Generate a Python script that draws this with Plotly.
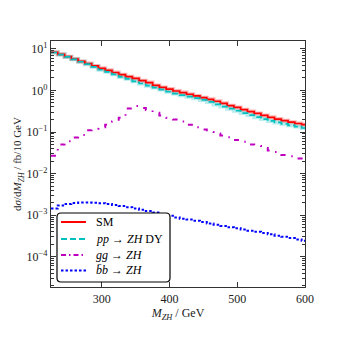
import plotly.graph_objects as go

# 10 GeV bins from 225 GeV, the last one is cut at 600 GeV by the axis
bin_lo = [225, 235, 245, 255, 265, 275, 285, 295, 305, 315,
          325, 335, 345, 355, 365, 375, 385, 395, 405, 415,
          425, 435, 445, 455, 465, 475, 485, 495, 505, 515,
          525, 535, 545, 555, 565, 575, 585, 595]
bin_end = 605

sm = [8.3, 7.4, 6.5, 5.7, 5.0, 4.45, 3.9, 3.4, 3.05, 2.7,
      2.4, 2.15, 1.95, 1.72, 1.55, 1.32, 1.18, 1.08, 0.97, 0.89,
      0.81, 0.74, 0.67, 0.61, 0.55, 0.49, 0.43, 0.39, 0.345, 0.31,
      0.28, 0.25, 0.225, 0.205, 0.187, 0.172, 0.16, 0.15]

dy = [8.2, 7.3, 6.4, 5.6, 4.9, 4.3, 3.7, 3.15, 2.8, 2.45,
      2.12, 1.9, 1.66, 1.47, 1.3, 1.17, 1.05, 0.93, 0.84, 0.77,
      0.71, 0.65, 0.59, 0.53, 0.46, 0.41, 0.365, 0.325, 0.285, 0.255,
      0.228, 0.205, 0.185, 0.17, 0.157, 0.145, 0.135, 0.125]

gg = [0.027, 0.05, 0.06, 0.074, 0.085, 0.11, 0.12, 0.13, 0.15, 0.18,
      0.22, 0.37, 0.42, 0.38, 0.34, 0.29, 0.25, 0.22, 0.20, 0.18,
      0.15, 0.13, 0.115, 0.10, 0.092, 0.082, 0.075, 0.064, 0.058, 0.050,
      0.046, 0.041, 0.036, 0.033, 0.028, 0.026, 0.023, 0.021]

bb = [1.45e-3, 1.7e-3, 1.85e-3, 1.95e-3, 2.0e-3, 2.0e-3, 1.98e-3, 1.93e-3, 1.85e-3, 1.75e-3,
      1.65e-3, 1.55e-3, 1.45e-3, 1.35e-3, 1.25e-3, 1.16e-3, 1.05e-3, 9.6e-4, 8.8e-4, 8.2e-4,
      7.8e-4, 7.3e-4, 6.8e-4, 6.3e-4, 5.9e-4, 5.5e-4, 5.1e-4, 4.8e-4, 4.5e-4, 4.2e-4,
      3.95e-4, 3.7e-4, 3.45e-4, 3.2e-4, 3.0e-4, 2.8e-4, 2.6e-4, 2.4e-4]

# y tick labels
y_exp = [-4, -3, -2, -1, 0, 1]
y_ticktext = ["10<sup>−4</sup>", "10<sup>−3</sup>", "10<sup>−2</sup>",
              "10<sup>−1</sup>", "10<sup>0</sup>", "10<sup>1</sup>"]

# legend entries: label, colour, dash
leg_labels = ["SM", "<i>pp</i> → <i>ZH</i> DY", "<i>gg</i> → <i>ZH</i>", "<i>b̄b</i> → <i>ZH</i>"]
leg_colors = ["#ff0000", "#00bfbf", "#bf00bf", "#0000ff"]
leg_dash = ["solid", "6px,3px", "5px,3px,1.5px,3px", "2.5px,2px"]

FONT = "Liberation Serif"

x_step = bin_lo + [bin_end]


def step(vals):
    # repeat last value so the final bin gets drawn with shape 'hv'
    return vals + [vals[-1]]


fig = go.Figure()

# pale halos under SM and DY
fig.add_trace(go.Scatter(x=x_step, y=step(sm), mode="lines", line_shape="hv",
                         line=dict(color="rgba(255,0,0,0.28)", width=4),
                         hoverinfo="skip"))
fig.add_trace(go.Scatter(x=x_step, y=step(dy), mode="lines", line_shape="hv",
                         line=dict(color="rgba(0,191,191,0.28)", width=4),
                         hoverinfo="skip"))

fig.add_trace(go.Scatter(x=x_step, y=step(sm), mode="lines", line_shape="hv",
                         line=dict(color="#ff0000", width=1.7), name="SM"))
fig.add_trace(go.Scatter(x=x_step, y=step(dy), mode="lines", line_shape="hv",
                         line=dict(color="#00bfbf", width=1.7, dash="6px,3px"),
                         name="pp → ZH DY"))
fig.add_trace(go.Scatter(x=x_step, y=step(gg), mode="lines", line_shape="hv",
                         line=dict(color="#bf00bf", width=2, dash="5px,7px,1.5px,7px"),
                         name="gg → ZH"))
fig.add_trace(go.Scatter(x=x_step, y=step(bb), mode="lines", line_shape="hv",
                         line=dict(color="#0000ff", width=2, dash="2.5px,2px"),
                         name="bb → ZH"))

# the page body adds 8px, so the figure is 8px smaller and margins shifted
fig.update_layout(
    width=331, height=331,
    margin=dict(l=43, r=34, t=33, b=52, autoexpand=False),
    paper_bgcolor="white", plot_bgcolor="white",
    font=dict(family=FONT, size=12, color="#222"),
    showlegend=False,
)

# hand-made legend box (matplotlib style, rounded corners)
x0, x1, y0, y1, rx, ry = 0.0236, 0.4685, 0.0203, 0.3008, 0.016, 0.016
box = (f"M {x0+rx},{y0} L {x1-rx},{y0} Q {x1},{y0} {x1},{y0+ry} "
       f"L {x1},{y1-ry} Q {x1},{y1} {x1-rx},{y1} L {x0+rx},{y1} "
       f"Q {x0},{y1} {x0},{y1-ry} L {x0},{y0+ry} Q {x0},{y0} {x0+rx},{y0} Z")
fig.add_shape(type="path", path=box, xref="paper", yref="paper", layer="above",
              fillcolor="white", line=dict(color="black", width=1.2))

leg_y = [0.2642, 0.1951, 0.1301, 0.0671]
for lab, col, dsh, yy in zip(leg_labels, leg_colors, leg_dash, leg_y):
    fig.add_shape(type="line", xref="paper", yref="paper", layer="above",
                  x0=0.0394, x1=0.1378, y0=yy, y1=yy,
                  line=dict(color=col, width=2, dash=dsh))
    fig.add_annotation(x=0.1693, y=yy, xref="paper", yref="paper",
                       xanchor="left", yanchor="middle", showarrow=False,
                       text=lab, font=dict(family=FONT, size=12, color="black"))

fig.update_xaxes(
    range=[225, 600], tickvals=[300, 400, 500, 600],
    ticks="inside", ticklen=5, tickcolor="#333",
    showline=True, linecolor="#333", linewidth=1.2, mirror="allticks",
    showgrid=False, zeroline=False,
    tickfont=dict(family=FONT, size=12, color="#222"),
    title=dict(text="<i>M</i><sub><i>ZH</i></sub> / GeV", standoff=4,
               font=dict(family=FONT, size=12, color="#222")),
)

minor_vals = [m * 10.0 ** e for e in range(-5, 2) for m in range(2, 10)]

fig.update_yaxes(
    type="log", range=[-4.73, 1.19],
    tickmode="array", tickvals=[10.0 ** e for e in y_exp], ticktext=y_ticktext,
    ticks="inside", ticklen=5, tickcolor="#333",
    minor=dict(ticks="inside", ticklen=2.5, tickcolor="#333", showgrid=False,
               tickmode="array", tickvals=minor_vals),
    showline=True, linecolor="#333", linewidth=1.2, mirror="allticks",
    showgrid=False, zeroline=False,
    tickfont=dict(family=FONT, size=12, color="#222"),
    title=dict(text="d<i>σ</i>/d<i>M</i><sub><i>ZH</i></sub> / fb/10 GeV", standoff=2,
               font=dict(family=FONT, size=11, color="#222")),
)

fig.write_html("out.html")
